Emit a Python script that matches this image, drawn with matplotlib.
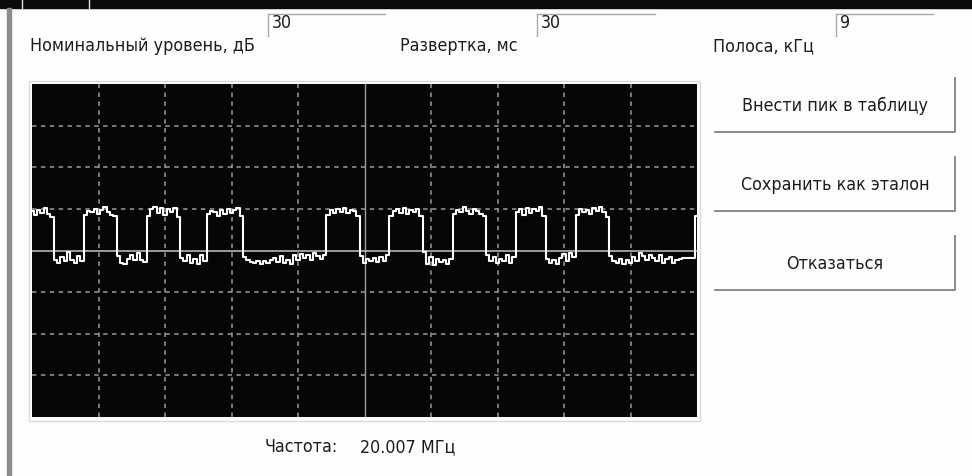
import numpy as np
import matplotlib
matplotlib.use('Agg')
import matplotlib.pyplot as plt
from matplotlib.patches import Rectangle

# --- данные окна ---
level_label = 'Номинальный уровень, дБ'
level_db = 30
sweep_label = 'Развертка, мс'
sweep_ms = 30
band_label = 'Полоса, кГц'
band_khz = 9
buttons = ['Внести пик в таблицу', 'Сохранить как эталон', 'Отказаться']
freq_label = 'Частота:'
freq_mhz = 20.007

n_x_div = 10   # деления по времени
n_y_div = 8    # деления по уровню

# трасса сигнала в делениях (0 = центральная линия), отсчеты через равный шаг
trace = [
    0.96, 0.86, 0.98, 0.90, 1.02, 0.88, 0.80,
    -0.22, -0.30, -0.16, -0.26, -0.04, -0.22, -0.30, -0.14, -0.26,
    0.86, 0.96, 0.92, 1.00, 0.88, 0.98, 1.04, 0.92, 0.86, 0.82,
    -0.14, -0.30, -0.32, -0.20, -0.10, -0.22, -0.06, -0.24, -0.28,
    0.84, 1.00, 1.04, 0.90, 1.02, 0.86, 1.00, 0.92, 1.03, 0.80,
    -0.18, -0.26, -0.12, -0.30, -0.20, -0.32, -0.10, -0.26,
    0.88, 0.96, 0.92, 0.84, 0.98, 0.88, 1.00, 0.90, 0.98, 1.02, 0.84,
    -0.16, -0.24, -0.28, -0.30, -0.26, -0.32, -0.26, -0.30, -0.22, -0.18,
    -0.28, -0.14, -0.30, -0.22, -0.32, -0.12, -0.22, -0.08, -0.18, -0.12,
    -0.22, -0.06, -0.14, -0.20, -0.10,
    0.86, 0.98, 0.90, 1.00, 0.92, 1.02, 0.90, 0.98, 0.94, 0.82,
    -0.14, -0.30, -0.20, -0.26, -0.18, -0.28, -0.16, -0.26, -0.12,
    0.84, 0.96, 1.00, 0.90, 1.02, 0.88, 0.98, 0.92, 1.00, 0.84,
    -0.04, -0.32, -0.16, -0.34, -0.20, -0.28, -0.24, -0.32, -0.20,
    0.88, 0.98, 0.92, 1.04, 0.96, 0.88, 1.00, 0.94, 0.88, 0.82,
    -0.10, -0.26, -0.16, -0.30, -0.20, -0.26, -0.12, -0.30, -0.16,
    0.92, 1.00, 0.86, 1.02, 0.90, 1.00, 0.94, 1.04, 0.82,
    -0.20, -0.30, -0.24, -0.32, -0.18, -0.08, -0.26, -0.06, -0.16,
    0.86, 1.00, 0.92, 0.98, 0.88, 1.02, 0.94, 1.04, 0.92, 0.80,
    -0.14, -0.26, -0.30, -0.20, -0.32, -0.24, -0.30, -0.16, -0.26, -0.06,
    -0.14, -0.22, -0.10, -0.18, -0.26, -0.12, -0.30, -0.20, -0.16, -0.30,
    -0.24, -0.20, -0.18, -0.18, -0.18, -0.18,
    0.84,
]

W, H = 972, 477
TXT = '#1c1c1c'
FONT = dict(family='DejaVu Sans', fontstretch='condensed', fontsize=12.8, color=TXT)

plt.rcParams['lines.scale_dashes'] = False

fig = plt.figure(figsize=(W / 100, H / 100), dpi=100, facecolor='#fdfdfd')

# слой интерфейса в пиксельных координатах
ui = fig.add_axes([0, 0, 1, 1], zorder=0)
ui.set_xlim(0, W)
ui.set_ylim(H, 0)
ui.axis('off')

# верхняя черная полоса и левая рамка
ui.add_patch(Rectangle((0, 0), W, 9, color='#0a0a0a'))
for x in (22, 89):
    ui.plot([x, x], [0, 9], color='#e0e0e0', lw=1)
ui.add_patch(Rectangle((7, 9), 4, H - 9, color='#8c8c8c'))

# поля ввода
fields = [
    (level_label, level_db, 30, 268, 385),
    (sweep_label, sweep_ms, 400, 537, 655),
    (band_label, band_khz, 713, 836, 933),
]
for label, value, lx, bx0, bx1 in fields:
    ui.text(lx, 46, label, ha='left', va='center', **FONT)
    ui.plot([bx0, bx1], [15, 15], color='#a8a8a8', lw=1)
    ui.plot([bx0, bx0], [15, 37], color='#a8a8a8', lw=1)
    ui.text(bx0 + 4, 23, str(value), ha='left', va='center', **FONT)

# кнопки
for i, label in enumerate(buttons):
    y0 = 79 + i * 79
    y1 = y0 + 54
    ui.plot([715, 955, 955], [y1, y1, y0], color='#808080', lw=1.3)
    ui.text(835, (y0 + y1) / 2, label, ha='center', va='center', **FONT)

# частота
ui.text(265, 447, freq_label, ha='left', va='center', **FONT)
ui.text(360, 447, f'{freq_mhz:.3f} МГц', ha='left', va='center', **FONT)

# рамка вокруг экрана
ui.add_patch(Rectangle((29, 82), 671, 340, fill=False, edgecolor='#dadada', lw=1))

# экран осциллографа
px0, py0, px1, py1 = 32, 85, 697, 418
ax = fig.add_axes([px0 / W, 1 - py1 / H, (px1 - px0) / W, (py1 - py0) / H], zorder=2)
ax.set_facecolor('#060606')
ax.set_xlim(0, sweep_ms)
ax.set_ylim(-n_y_div / 2, n_y_div / 2)
ax.set_xticks([])
ax.set_yticks([])
for s in ax.spines.values():
    s.set_visible(False)

dash = (0, (3.2, 3.2))
for i in range(1, n_x_div):
    x = i * sweep_ms / n_x_div
    if i == n_x_div // 2:
        ax.axvline(x, color='#a0a0a0', lw=1.0)
    else:
        ax.axvline(x, color='#9a9a9a', lw=1.1, linestyle=dash)
for j in range(1, n_y_div):
    y = j - n_y_div / 2
    if y == 0:
        ax.axhline(y, color='#c4c4c4', lw=1.1)
    else:
        ax.axhline(y, color='#9a9a9a', lw=1.1, linestyle=dash)

t = np.arange(len(trace)) * sweep_ms / (len(trace) - 1)
ax.plot(t, trace, color='white', lw=1.5, drawstyle='steps-mid')

fig.savefig('out.png', dpi=100, facecolor=fig.get_facecolor())
